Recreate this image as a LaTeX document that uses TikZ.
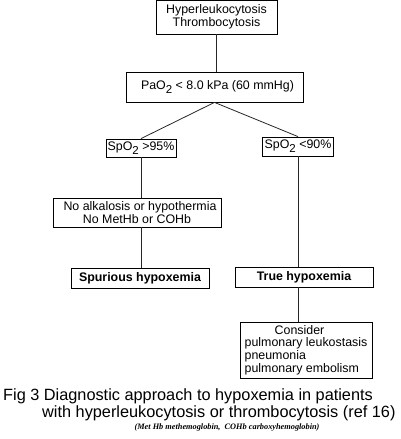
\documentclass[tikz,border=0pt]{standalone}
\usepackage{fontspec}
\setmainfont{Liberation Sans}
\newfontfamily\capserif{Liberation Serif}
\newcommand{\lowtwo}{\raisebox{-0.32em}{\fontsize{11.5}{12}\selectfont 2}}
\begin{document}
\begin{tikzpicture}[x=1pt,y=-1pt,
			every node/.style={font=\fontsize{12.4}{12.8}\selectfont,inner sep=0pt},
			flowbox/.style={draw,line width=0.8pt,align=center},
			link/.style={line width=0.8pt,black!85}
			]
			\useasboundingbox (0,0) rectangle (400,439);
			\node[flowbox,minimum width=121,minimum height=34] (hyper) at (216.5,17) {Hyperleukocytosis\\Thrombocytosis};
			\node[flowbox,minimum width=177,minimum height=30] (pao) at (214.5,87) {\hspace*{6pt}PaO\lowtwo{} < 8.0 kPa (60 mmHg)};
			\node[flowbox,minimum width=70,minimum height=18] (s95) at (141,148) {SpO\lowtwo{} >95\%};
			\node[flowbox,minimum width=71,minimum height=19] (s90) at (298,146.5) {SpO\lowtwo{} <90\%};
			\node[flowbox,minimum width=168,minimum height=29] (noalk) at (137,212.5) {\hspace*{6pt}No alkalosis or hypothermia\\No MetHb or COHb};
			\node[flowbox,minimum width=138,minimum height=20,font=\fontsize{12.4}{12.8}\selectfont\bfseries] (spur) at (140,278) {Spurious hypoxemia};
			\node[flowbox,minimum width=138,minimum height=20,font=\fontsize{12.4}{12.8}\selectfont\bfseries] (true) at (304,277) {True hypoxemia};
			\node[flowbox,align=left,minimum width=132,minimum height=56] (cons) at (306,350) {\hspace*{30pt}Consider\\pulmonary leukostasis\\pneumonia\\pulmonary embolism};
			\draw[link] (hyper.south) -- (hyper.south |- pao.north);
			\draw[link] (pao.south) -- (s95.north);
			\draw[link] (pao.south) -- (s90.north);
			\draw[link] (s95.south) -- (s95.south |- noalk.north);
			\draw[link] (s95.south |- noalk.south) -- (s95.south |- spur.north);
			\draw[link] (s90.south) -- (s90.south |- true.north);
			\draw[link] (s90.south |- true.south) -- (s90.south |- cons.north);
			\node[anchor=base west,font=\fontsize{16.3}{17}\selectfont] (capA) at (3,400.5) {Fig 3 Diagnostic approach to hypoxemia in patients};
			\node[anchor=base west,font=\fontsize{16.3}{17}\selectfont] (capB) at (42,417) {with hyperleukocytosis or thrombocytosis (ref 16)};
			\node[anchor=base,font=\capserif\fontsize{8.3}{9}\selectfont\bfseries\itshape] (capC) at (227,429.5) {(Met Hb methemoglobin,\ \ COHb carboxyhemoglobin)};
		\end{tikzpicture}
\end{document}
